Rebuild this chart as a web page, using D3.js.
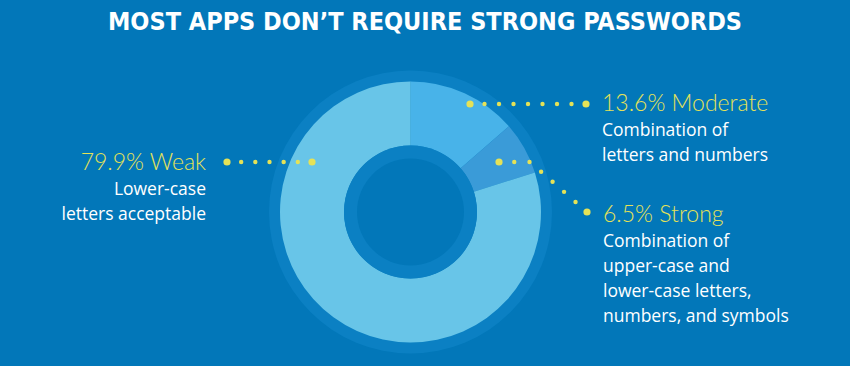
<!DOCTYPE html>
<html>
<head>
<meta charset="utf-8">
<script src="https://cdn.jsdelivr.net/npm/d3@7"></script>
<style>
  html, body { margin: 0; padding: 0; background: #0277b9; }
  svg { display: block; }
</style>
</head>
<body>
<figure id="donut" style="margin:0"></figure>
<script>
// data
const categories = ["Moderate", "Strong", "Weak"];
const shares = [13.6, 6.5, 79.9];
const descriptions = [
  ["Combination of", "letters and numbers"],
  ["Combination of", "upper-case and", "lower-case letters,", "numbers, and symbols"],
  ["Lower-case", "letters acceptable"]
];
const sliceColors = ["#48b3e9", "#3a9bd8", "#68c5e8"];

const width = 850, height = 366;
const cx = 410.5, cy = 212;
const outerR = 130.5, innerR = 66.5;

const svg = d3.select("figure#donut")
  .append("svg")
  .attr("width", width)
  .attr("height", height);

svg.append("rect").attr("width", width).attr("height", height).attr("fill", "#0277b9");

// title
svg.append("text")
  .attr("x", width / 2)
  .attr("y", 29.5)
  .attr("text-anchor", "middle")
  .attr("fill", "#ffffff")
  .attr("font-family", "'DejaVu Sans Condensed', 'DejaVu Sans', sans-serif")
  .attr("font-weight", "bold")
  .attr("font-size", 25.5)
  .attr("textLength", 634)
  .attr("lengthAdjust", "spacingAndGlyphs")
  .text("MOST APPS DON\u2019T REQUIRE STRONG PASSWORDS");

const g = svg.append("g").attr("transform", "translate(" + cx + "," + cy + ")");

// halo ring behind the donut
g.append("circle").attr("r", 141.5).attr("fill", "#0b80c3");

const pie = d3.pie().sort(null).value(d => d)(shares);
const arc = d3.arc().innerRadius(innerR).outerRadius(outerR);

g.selectAll("path.slice")
  .data(pie)
  .enter()
  .append("path")
  .attr("class", "slice")
  .attr("d", arc)
  .attr("fill", (d, i) => sliceColors[i]);

// inner ring + hole
g.append("circle").attr("r", innerR).attr("fill", "#0b80c3");
g.append("circle").attr("r", 53.5).attr("fill", "#0277b9");

// annotation layout (positions only)
const labels = [
  { x: 602, y: 111, anchor: "start", leader: [[470, 104], [586, 104]] },
  { x: 603, y: 222, anchor: "start", leader: [[499, 162], [530, 162], [587, 212]] },
  { x: 206, y: 170, anchor: "end", leader: [[227, 162], [312, 162]] }
];

const yellow = "#e5e257";

function dotsAlong(pts, step) {
  const segs = [];
  let total = 0;
  for (let i = 1; i < pts.length; i++) {
    const dx = pts[i][0] - pts[i - 1][0], dy = pts[i][1] - pts[i - 1][1];
    const len = Math.hypot(dx, dy);
    segs.push({ a: pts[i - 1], dx, dy, len, start: total });
    total += len;
  }
  const n = Math.round(total / step);
  const out = [];
  for (let k = 0; k <= n; k++) {
    const t = total * k / n;
    const s = segs.find(s => t <= s.start + s.len + 1e-6) || segs[segs.length - 1];
    const f = (t - s.start) / s.len;
    out.push({ x: s.a[0] + s.dx * f, y: s.a[1] + s.dy * f, end: k === 0 || k === n });
  }
  return out;
}

labels.forEach((lab, i) => {
  const dots = dotsAlong(lab.leader, 14.5);
  svg.append("g").selectAll("circle")
    .data(dots)
    .enter()
    .append("circle")
    .attr("cx", d => d.x)
    .attr("cy", d => d.y)
    .attr("r", d => d.end ? 3.6 : 2.2)
    .attr("fill", yellow);

  svg.append("text")
    .attr("x", lab.x)
    .attr("y", lab.y)
    .attr("text-anchor", lab.anchor)
    .attr("fill", yellow)
    .attr("font-family", "Lato, 'Open Sans', sans-serif")
    .attr("font-weight", 300)
    .attr("font-size", 23)
    .text(shares[i] + "% " + categories[i]);

  svg.append("g").selectAll("text")
    .data(descriptions[i])
    .enter()
    .append("text")
    .attr("x", lab.x)
    .attr("y", (d, j) => lab.y + 25 * (j + 1))
    .attr("text-anchor", lab.anchor)
    .attr("fill", "#ffffff")
    .attr("font-family", "'Open Sans', sans-serif")
    .attr("font-size", 17.5)
    .text(d => d);
});
</script>
</body>
</html>
